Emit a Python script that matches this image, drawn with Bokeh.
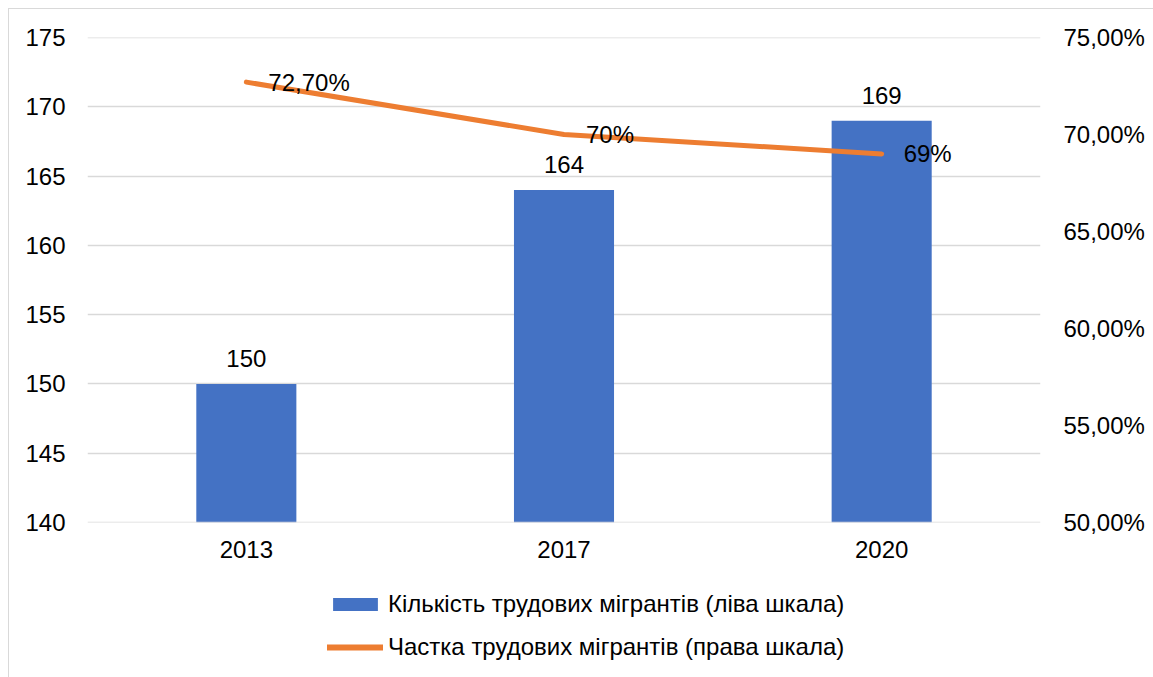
from bokeh.plotting import figure
from bokeh.layouts import column
from bokeh.models import (Range1d, LinearAxis, FixedTicker, Legend, LegendItem,
                          ColumnDataSource, FactorRange, Span)
from bokeh.core.properties import value
from bokeh.embed import file_html
from bokeh.resources import INLINE

years = ["2013", "2017", "2020"]
migrants = [150, 164, 169]
share = [72.7, 70.0, 69.0]
share_labels = ["72,70%", "70%", "69%"]
left_ticks = [140, 145, 150, 155, 160, 165, 170, 175]
right_ticks = [50, 55, 60, 65, 70, 75]
right_tick_labels = ["50,00%", "55,00%", "60,00%", "65,00%", "70,00%", "75,00%"]
bar_name = "Кількість трудових мігрантів (ліва шкала)"
line_name = "Частка трудових мігрантів (права шкала)"

FONT = "Liberation Sans"
FS = "24px"
BLUE = "#4472C4"
ORANGE = "#ED7D31"
GRID = "#d9d9d9"
OFF = 9  # page margin + outer border

src = ColumnDataSource(dict(x=years, y=migrants, s=share, sl=share_labels,
                            yl=[str(v) for v in migrants]))

p = figure(x_range=FactorRange(*years), y_range=Range1d(left_ticks[0], left_ticks[-1]),
           width=1153 - OFF, height=565 - OFF, output_backend="svg", toolbar_location=None,
           min_border_left=87 - OFF, min_border_right=113, min_border_top=37 - OFF,
           min_border_bottom=43)
p.extra_y_ranges = {"pct": Range1d(right_ticks[0], right_ticks[-1])}
p.outline_line_color = None
p.background_fill_color = "white"
p.border_fill_color = "white"

p.xgrid.grid_line_color = None
p.ygrid.grid_line_color = GRID
p.ygrid.grid_line_width = 1.5
p.ygrid.ticker = FixedTicker(ticks=left_ticks)
for t in (left_ticks[0], left_ticks[-1]):
    p.add_layout(Span(location=t, dimension="width", line_color=GRID, line_width=1.5))

bars = p.vbar(x="x", top="y", bottom=left_ticks[0], width=0.315, source=src,
              fill_color=BLUE, line_color=None)
line = p.line(x="x", y="s", source=src, y_range_name="pct",
              line_color=ORANGE, line_width=5, line_cap="round")

p.text(x="x", y="y", text="yl", source=src, text_align="center",
       text_baseline="alphabetic", y_offset=-25, text_font=value(FONT),
       text_font_size=FS, text_color="black")
p.text(x="x", y="s", text="sl", source=src, y_range_name="pct",
       text_align="left", text_baseline="middle", x_offset=22, y_offset=0,
       text_font=value(FONT), text_font_size=FS, text_color="black")

ra = LinearAxis(y_range_name="pct", ticker=FixedTicker(ticks=right_ticks),
                major_label_overrides={t: l for t, l in zip(right_ticks, right_tick_labels)})
p.add_layout(ra, "right")

for ax in [p.xaxis[0], p.yaxis[0], ra]:
    ax.axis_line_color = None
    ax.major_tick_line_color = None
    ax.minor_tick_line_color = None
    ax.major_tick_out = 0
    ax.major_tick_in = 0
    ax.minor_tick_out = 0
    ax.minor_tick_in = 0
    ax.major_label_text_font = FONT
    ax.major_label_text_font_size = FS
    ax.major_label_text_color = "black"
p.yaxis[0].ticker = FixedTicker(ticks=left_ticks)
p.yaxis[0].major_label_standoff = 22
p.xaxis[0].major_label_standoff = 18
ra.major_label_standoff = 23

# legend strip below the chart (same data, ranges chosen so nothing is drawn in it)
lg = figure(width=1153 - OFF, height=112, output_backend="svg", toolbar_location=None,
            x_range=FactorRange(*years), y_range=Range1d(1000, 1001),
            x_axis_location=None, y_axis_location=None,
            min_border_left=0, min_border_right=0, min_border_top=0, min_border_bottom=0)
lg.outline_line_color = None
lg.grid.grid_line_color = None
lg_bar = lg.vbar(x="x", top="y", width=0.315, source=src, fill_color=BLUE, line_color=None)
lg_line = lg.line(x="x", y="s", source=src, line_color=ORANGE, line_width=6, line_cap="round")

legend = Legend(items=[LegendItem(label=bar_name, renderers=[lg_bar]),
                       LegendItem(label=line_name, renderers=[lg_line])],
                orientation="vertical", location=(240, 16))
legend.label_text_font = FONT
legend.label_text_font_size = FS
legend.label_text_color = "black"
legend.glyph_width = 56
legend.glyph_height = 16
legend.label_standoff = 5
legend.spacing = 15
legend.padding = 4
legend.margin = 0
legend.border_line_color = None
legend.background_fill_alpha = 0
lg.add_layout(legend, "center")

layout = column(p, lg, spacing=0)
layout.styles = {"margin-left": "8px", "margin-top": "8px",
                 "border-left": "1px solid #d9d9d9", "border-top": "1px solid #d9d9d9"}

open("out.html", "w").write(file_html(layout, INLINE))
